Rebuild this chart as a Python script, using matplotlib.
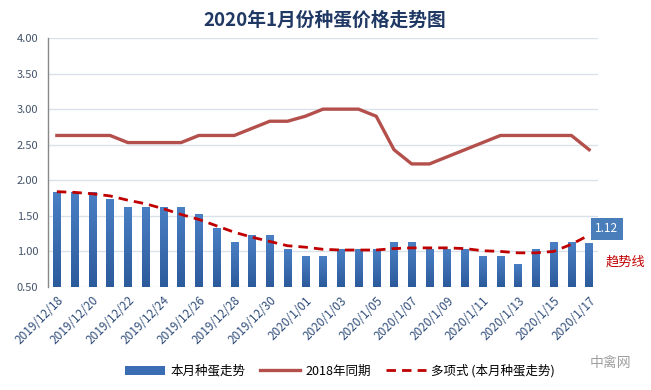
import matplotlib
matplotlib.use("Agg")
from matplotlib import pyplot as plt
import numpy as np

plt.rcParams["font.family"] = ["Noto Sans CJK SC", "DejaVu Sans"]

dates = [
    "2019/12/18", "2019/12/19", "2019/12/20", "2019/12/21", "2019/12/22",
    "2019/12/23", "2019/12/24", "2019/12/25", "2019/12/26", "2019/12/27",
    "2019/12/28", "2019/12/29", "2019/12/30", "2019/12/31", "2020/1/01",
    "2020/1/02", "2020/1/03", "2020/1/04", "2020/1/05", "2020/1/06",
    "2020/1/07", "2020/1/08", "2020/1/09", "2020/1/10", "2020/1/11",
    "2020/1/12", "2020/1/13", "2020/1/14", "2020/1/15", "2020/1/16",
    "2020/1/17",
]
this_month = [
    1.83, 1.83, 1.83, 1.73, 1.63, 1.63, 1.63, 1.63, 1.53, 1.33,
    1.13, 1.23, 1.23, 1.03, 0.93, 0.93, 1.03, 1.03, 1.03, 1.13,
    1.13, 1.03, 1.03, 1.03, 0.93, 0.93, 0.83, 1.03, 1.13, 1.13,
    1.12,
]
last_year = [
    2.63, 2.63, 2.63, 2.63, 2.53, 2.53, 2.53, 2.53, 2.63, 2.63,
    2.63, 2.73, 2.83, 2.83, 2.90, 3.00, 3.00, 3.00, 2.90, 2.43,
    2.23, 2.23, 2.33, 2.43, 2.53, 2.63, 2.63, 2.63, 2.63, 2.63,
    2.43,
]
trend = [
    1.84, 1.83, 1.81, 1.78, 1.72, 1.67, 1.60, 1.52, 1.45, 1.36,
    1.27, 1.20, 1.14, 1.08, 1.06, 1.03, 1.02, 1.02, 1.02, 1.04,
    1.05, 1.05, 1.05, 1.04, 1.01, 1.00, 0.98, 0.98, 1.00, 1.10,
    1.23,
]

W, H = 651, 390
fig = plt.figure(figsize=(W / 100, H / 100), dpi=100)
ax = fig.add_axes([48 / W, 1 - 287 / H, 550 / W, 249 / H])

x = np.arange(len(dates))
ymin = 0.5
bw = 0.42

# bars with a light vertical gradient
grad = np.linspace(0, 1, 64).reshape(-1, 1)
cmap = matplotlib.colors.LinearSegmentedColormap.from_list(
    "barblue", ["#2c5b9c", "#4a7fc4"]
)
bars = ax.bar(x, np.array(this_month) - ymin, bottom=ymin, width=bw,
              color="#3a6db3", label="本月种蛋走势", zorder=2)
for b in bars:
    x0, y0 = b.get_x(), b.get_y()
    im = ax.imshow(grad, extent=[x0, x0 + b.get_width(), y0, y0 + b.get_height()],
                   origin="lower", cmap=cmap, aspect="auto", zorder=2)
    im.set_clip_path(b)

ax.plot(x, last_year, "-", color="#b4504c", lw=2.4, label="2018年同期", zorder=3)
ax.plot(x, trend, "--", color="#c00000", lw=2.0, dashes=(3.4, 2.2),
        label="多项式 (本月种蛋走势)", zorder=4)

ax.set_xlim(-0.5, len(dates) - 0.5)
ax.set_ylim(0.5, 4.0)
ax.set_yticks(np.arange(0.5, 4.01, 0.5))
ax.set_yticklabels(["%.2f" % v for v in np.arange(0.5, 4.01, 0.5)])
ax.yaxis.grid(True, color="#d9e1ea", lw=1.0, zorder=0)
ax.set_axisbelow(True)
ax.set_xticks(x[::2])
ax.set_xticklabels(dates[::2], rotation=45, ha="right", rotation_mode="anchor")
ax.tick_params(axis="x", length=0, labelsize=8.5, labelcolor="#2f4d7a", pad=5)
ax.tick_params(axis="y", length=0, labelsize=8, labelcolor="#44546a", pad=7)
for s in ["top", "right", "bottom"]:
    ax.spines[s].set_visible(False)
ax.spines["left"].set_color("#888888")
ax.spines["left"].set_linewidth(1.0)

fig.text(325 / W, 1 - 20 / H, "2020年1月份种蛋价格走势图", ha="center", va="center",
         fontsize=13.5, fontweight="bold", color="#1f3864")

# value label on last bar
ax.annotate("1.12", xy=(x[-1], this_month[-1]), xytext=(607 / W, 1 - 229 / H),
            textcoords="figure fraction", ha="center", va="center", fontsize=8.5,
            color="white",
            bbox=dict(boxstyle="square,pad=0.35", fc="#4a7ebb", ec="none"))
fig.text(626 / W, 1 - 262 / H, "趋势线", ha="center", va="center",
         fontsize=9.5, color="#c00000")
fig.text(610 / W, 1 - 363 / H, "中禽网", ha="center", va="center",
         fontsize=10, color="#a0a0a0")

handles, labels = ax.get_legend_handles_labels()
order = [2, 0, 1]
fig.legend([handles[i] for i in order], [labels[i] for i in order],
           loc="center", bbox_to_anchor=(340 / W, 1 - 371 / H), ncol=3,
           frameon=False, fontsize=9, handlelength=3.2, columnspacing=1.2,
           handletextpad=0.4)

fig.savefig("out.png", dpi=100)
